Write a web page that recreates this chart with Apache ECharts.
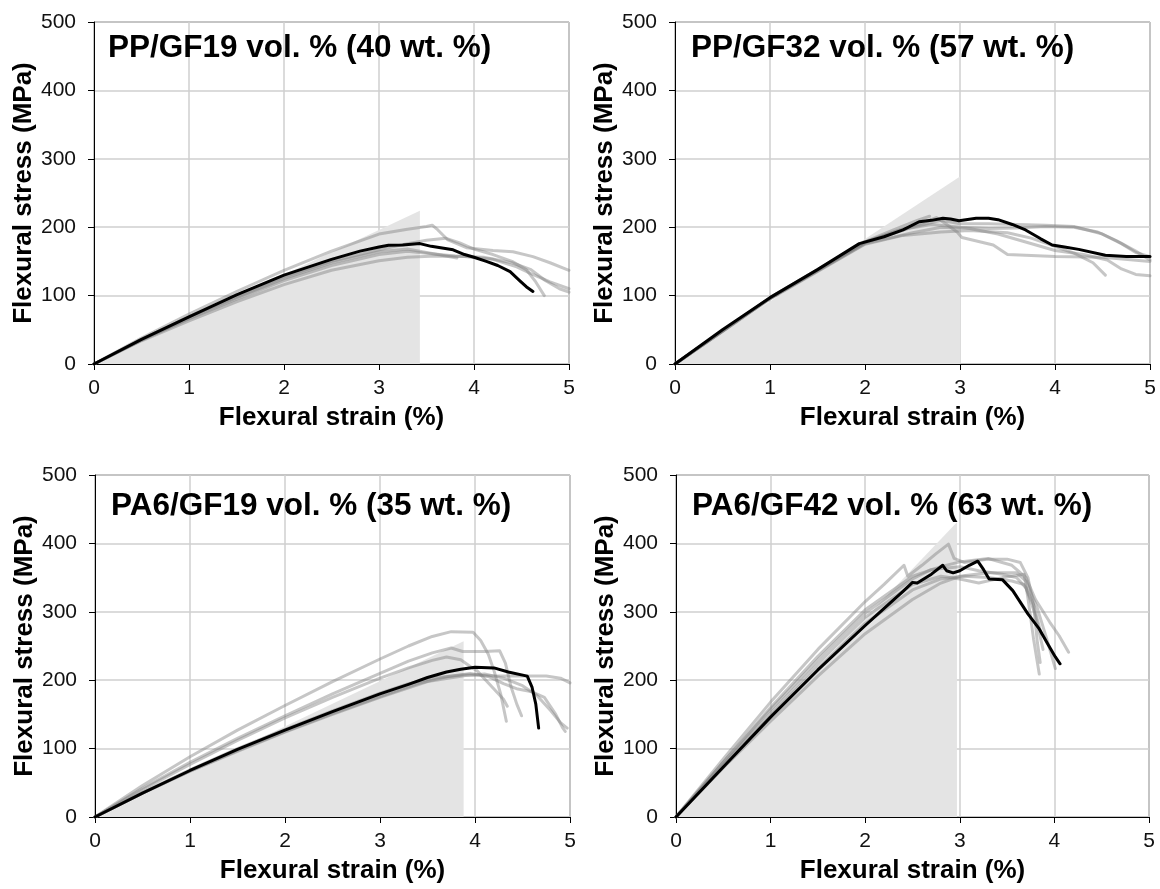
<!DOCTYPE html>
<html>
<head>
<meta charset="utf-8">
<title>Flexural stress-strain curves</title>
<script src="https://cdn.jsdelivr.net/npm/echarts@6/dist/echarts.min.js"></script>
<style>
  html, body { margin: 0; padding: 0; background: #fff; }
  #chart { width: 1160px; height: 889px; }
</style>
</head>
<body>
<div id="chart"></div>
<script>
// ---- Panel titles and axis labels ----
const panelTitles = [
  'PP/GF19 vol. % (40 wt. %)',
  'PP/GF32 vol. % (57 wt. %)',
  'PA6/GF19 vol. % (35 wt. %)',
  'PA6/GF42 vol. % (63 wt. %)'
];
const xAxisTitle = 'Flexural strain (%)';
const yAxisTitle = 'Flexural stress (MPa)';
const strainTicks = [0, 1, 2, 3, 4, 5];
const stressTicks = [0, 100, 200, 300, 400, 500];

// ---- PP/GF19 vol. % ----
const ppGf19Linear = [[0, 0], [3.43, 224]];
const ppGf19Mean = [[0,0],[0.5,36],[1,69],[1.5,101],[2,130],[2.5,153],[2.8,165],[3,171],[3.1,173.5],[3.25,174],[3.43,176],[3.55,172],[3.78,167],[3.9,160],[4.0,156],[4.13,150],[4.25,144],[4.38,135],[4.48,122],[4.55,113],[4.62,106]];
const ppGf19Specimens = [
  [[0,0],[0.5,38],[1,73],[1.5,106],[2,137],[2.5,165],[3,190],[3.3,197],[3.5,201],[3.56,203],[3.62,196],[3.72,182],[3.92,170],[4.2,166],[4.41,164],[4.62,157],[4.8,148],[5,137]],
  [[0,0],[0.5,36],[1,69],[1.5,99],[2,127],[2.5,150],[3,167],[3.3,176],[3.5,181],[3.7,184],[3.85,177],[4.0,168],[4.2,160],[4.4,150],[4.55,138],[4.65,120],[4.74,100]],
  [[0,0],[0.5,35],[1,66],[1.5,95],[2,122],[2.5,144],[3,160],[3.3,165],[3.5,162],[3.8,158],[4.1,156],[4.4,148],[4.6,138],[4.75,122],[4.9,110],[5,105]],
  [[0,0],[0.5,34],[1,63],[1.5,91],[2,116],[2.5,137],[3,151],[3.3,156],[3.6,158],[3.9,157],[4.2,153],[4.45,142],[4.6,132],[4.8,120],[5,110]],
  [[0,0],[0.5,35],[1,67],[1.5,97],[2,125],[2.5,148],[3,164],[3.3,168],[3.5,163],[3.82,155]]
];

// ---- PP/GF32 vol. % ----
const ppGf32Linear = [[0, 0], [3.0, 274]];
const ppGf32Mean = [[0,0],[0.5,50],[1,97],[1.5,138],[1.94,176],[2.2,186],[2.4,196],[2.57,208],[2.7,210],[2.82,213],[2.9,212],[2.99,209.5],[3.17,213],[3.3,213],[3.4,211],[3.55,204],[3.69,196],[3.85,183],[3.97,174],[4.1,171],[4.25,167.6],[4.53,159],[4.75,157],[5,157]];
const ppGf32Specimens = [
  [[0,0],[1,96],[2,178],[2.3,193],[2.6,206],[2.75,214],[2.85,205],[2.97,193],[3.02,185],[3.35,174],[3.5,160],[4.0,157],[4.5,156],[5,150]],
  [[0,0],[1,97],[2,178],[2.4,197],[2.7,204],[3.0,200],[3.3,198],[3.6,199],[3.9,201],[4.2,200],[4.45,193],[4.65,180],[4.85,165],[5,152]],
  [[0,0],[1,96],[2,177],[2.5,200],[2.8,210],[3.0,205],[3.3,205],[3.6,204],[3.9,203],[4.2,201],[4.5,190],[4.7,176],[4.85,163],[5,157]],
  [[0,0],[1,95],[2,175],[2.4,188],[2.8,193],[3.1,195],[3.5,192],[3.75,184],[4.0,172],[4.2,162],[4.4,148],[4.53,130]],
  [[0,0],[1,96],[2,176],[2.5,192],[2.8,200],[3.1,198],[3.4,190],[3.7,178],[4.0,166],[4.3,160],[4.55,152],[4.7,139],[4.85,131],[5,129]],
  [[0,0],[1,97],[2,179],[2.3,196],[2.55,210],[2.68,216]]
];

// ---- PA6/GF19 vol. % ----
const pa6Gf19Linear = [[0, 0], [3.88, 257]];
const pa6Gf19Mean = [[0,0],[0.5,35],[1,68],[1.5,99],[2,127],[2.5,154],[3,180],[3.3,194],[3.5,204],[3.7,212],[3.85,216],[4.0,219],[4.2,218],[4.35,212],[4.55,206],[4.6,190],[4.64,165],[4.67,130]];
const pa6Gf19Specimens = [
  [[0,0],[0.5,46],[1,88],[1.5,127],[2,163],[2.5,198],[3,231],[3.3,250],[3.55,264],[3.75,271],[3.98,270],[4.06,258],[4.14,238],[4.2,214],[4.27,180],[4.33,140]],
  [[0,0],[0.5,42],[1,80],[1.5,115],[2,148],[2.5,180],[3,210],[3.3,228],[3.55,240],[3.75,247],[3.87,242],[4.1,242],[4.26,243],[4.32,225],[4.38,190],[4.44,165],[4.49,148]],
  [[0,0],[0.5,40],[1,77],[1.5,112],[2,145],[2.5,175],[3,203],[3.3,218],[3.55,229],[3.7,234],[3.85,230],[3.95,220],[4.02,214],[4.18,190],[4.3,172],[4.34,162]],
  [[0,0],[0.5,36],[1,69],[1.5,100],[2,128],[2.5,155],[3,181],[3.3,195],[3.6,204],[3.9,208],[4.2,206],[4.5,206],[4.75,206],[4.9,203],[5,196]],
  [[0,0],[0.5,35],[1,67],[1.5,97],[2,125],[2.5,151],[3,176],[3.4,195],[3.7,205],[3.95,210],[4.15,205],[4.3,195],[4.45,187],[4.6,183],[4.73,175],[4.85,150],[4.92,131],[4.95,125]],
  [[0,0],[0.5,35],[1,67],[1.5,96],[2,124],[2.5,150],[3,175],[3.5,198],[3.9,207],[4.1,209],[4.3,203],[4.5,192],[4.65,178],[4.8,155],[4.9,138],[4.97,130]]
];

// ---- PA6/GF42 vol. % ----
const pa6Gf42Linear = [[0, 0], [2.97, 431]];
const pa6Gf42Mean = [[0,0],[0.5,73],[1,146],[1.5,215],[2,280],[2.2,305],[2.4,330],[2.5,343],[2.55,342],[2.7,355],[2.82,368],[2.86,360],[2.93,357],[3.0,360],[3.1,368],[3.19,374],[3.25,362],[3.31,348],[3.45,347],[3.56,331],[3.72,297],[3.84,275],[3.93,253],[4.01,234],[4.06,224]];
const pa6Gf42Specimens = [
  [[0,0],[0.5,85],[1,168],[1.5,245],[2,315],[2.2,340],[2.41,368],[2.45,352],[2.6,368],[2.75,385],[2.88,399],[2.94,378],[3.05,372],[3.3,377],[3.5,377],[3.64,372],[3.72,350],[3.78,310],[3.82,255],[3.85,226]],
  [[0,0],[0.5,80],[1,160],[1.5,235],[2,303],[2.5,352],[2.8,366],[3.0,373],[3.3,378],[3.55,368],[3.7,350],[3.8,318],[3.95,285],[4.05,265],[4.15,241]],
  [[0,0],[0.5,77],[1,152],[1.5,224],[2,292],[2.5,340],[2.8,352],[3.0,348],[3.2,342],[3.45,350],[3.68,355],[3.72,320],[3.78,260],[3.84,209]],
  [[0,0],[0.5,72],[1,140],[1.5,206],[2,268],[2.5,318],[2.8,342],[3.0,352],[3.3,357],[3.6,357],[3.7,345],[3.82,305],[3.92,260],[4.01,217]],
  [[0,0],[0.5,80],[1,157],[1.5,230],[2,298],[2.5,348],[2.7,362],[3.0,366],[3.2,360],[3.45,355],[3.6,350],[3.7,335],[3.8,295],[3.88,245]],
  [[0,0],[0.5,75],[1,148],[1.5,218],[2,283],[2.5,332],[2.8,348],[3.05,352],[3.3,350],[3.55,345],[3.68,340],[3.78,310],[3.86,268]]
];

// ---- Assemble panels ----
const panels = [
  { title: panelTitles[0], linear: ppGf19Linear, mean: ppGf19Mean, specimens: ppGf19Specimens },
  { title: panelTitles[1], linear: ppGf32Linear, mean: ppGf32Mean, specimens: ppGf32Specimens },
  { title: panelTitles[2], linear: pa6Gf19Linear, mean: pa6Gf19Mean, specimens: pa6Gf19Specimens },
  { title: panelTitles[3], linear: pa6Gf42Linear, mean: pa6Gf42Mean, specimens: pa6Gf42Specimens }
];

// plot rectangles (px) for the 2x2 layout
const gridRects = [
  { left: 94,  top: 22,  width: 475, height: 342 },
  { left: 675, top: 22,  width: 475, height: 342 },
  { left: 95,  top: 475, width: 475, height: 342 },
  { left: 676, top: 475, width: 473, height: 342 }
];
const titlePos = [
  { left: 108, top: 32 },
  { left: 691, top: 32 },
  { left: 111, top: 490 },
  { left: 692, top: 490 }
];

const FONT = '"Liberation Sans", Arial, Helvetica, sans-serif';

const grids = [], xAxes = [], yAxes = [], titles = [], series = [];

panels.forEach((p, i) => {
  grids.push(Object.assign({
    show: true, borderColor: '#505050', borderWidth: 1, backgroundColor: 'transparent',
    containLabel: false
  }, gridRects[i]));

  xAxes.push({
    type: 'value', gridIndex: i,
    min: strainTicks[0], max: strainTicks[strainTicks.length - 1], interval: 1,
    name: xAxisTitle, nameLocation: 'middle', nameGap: 41,
    nameTextStyle: { fontFamily: FONT, fontSize: 26, fontWeight: 'bold', color: '#000' },
    axisLine: { show: true, onZero: false, lineStyle: { color: '#000', width: 1 } },
    axisTick: { show: true, inside: false, length: 6, lineStyle: { color: '#000' } },
    axisLabel: { fontFamily: FONT, fontSize: 21, color: '#111', margin: 14,
                 formatter: v => strainTicks.includes(v) ? String(v) : '' },
    splitLine: { show: true, lineStyle: { color: '#cfcfcf', width: 1.5 } }
  });

  yAxes.push({
    type: 'value', gridIndex: i,
    min: stressTicks[0], max: stressTicks[stressTicks.length - 1], interval: 100,
    name: yAxisTitle, nameLocation: 'middle', nameGap: 56,
    nameTextStyle: { fontFamily: FONT, fontSize: 26, fontWeight: 'bold', color: '#000' },
    axisLine: { show: true, onZero: false, lineStyle: { color: '#000', width: 1 } },
    axisTick: { show: true, inside: false, length: 6, lineStyle: { color: '#000' } },
    axisLabel: { fontFamily: FONT, fontSize: 21, color: '#111', margin: 18,
                 formatter: v => stressTicks.includes(v) ? String(v) : '' },
    splitLine: { show: true, lineStyle: { color: '#cfcfcf', width: 1.5 } }
  });

  titles.push(Object.assign({
    text: p.title, padding: 0,
    textStyle: { fontFamily: FONT, fontSize: 31.5, fontWeight: 'bold', color: '#000' }
  }, titlePos[i]));

  // linear-elastic reference region (shaded triangle)
  series.push({
    type: 'line', xAxisIndex: i, yAxisIndex: i, data: p.linear,
    showSymbol: false, silent: true, z: 1,
    lineStyle: { width: 0, opacity: 0 },
    areaStyle: { color: '#e4e4e4', opacity: 1, origin: 0 }
  });

  // individual specimens
  p.specimens.forEach(curve => {
    series.push({
      type: 'line', xAxisIndex: i, yAxisIndex: i, data: curve,
      showSymbol: false, silent: true, z: 2,
      lineStyle: { color: 'rgba(128,128,128,0.45)', width: 3, join: 'round', cap: 'round' }
    });
  });

  // representative curve
  series.push({
    type: 'line', xAxisIndex: i, yAxisIndex: i, data: p.mean,
    showSymbol: false, silent: true, z: 3,
    lineStyle: { color: '#000', width: 3, join: 'round', cap: 'round' }
  });
});

const chart = echarts.init(document.getElementById('chart'), null, { renderer: 'canvas' });
chart.setOption({
  animation: false,
  backgroundColor: '#fff',
  title: titles,
  grid: grids,
  xAxis: xAxes,
  yAxis: yAxes,
  series: series
});
</script>
</body>
</html>
